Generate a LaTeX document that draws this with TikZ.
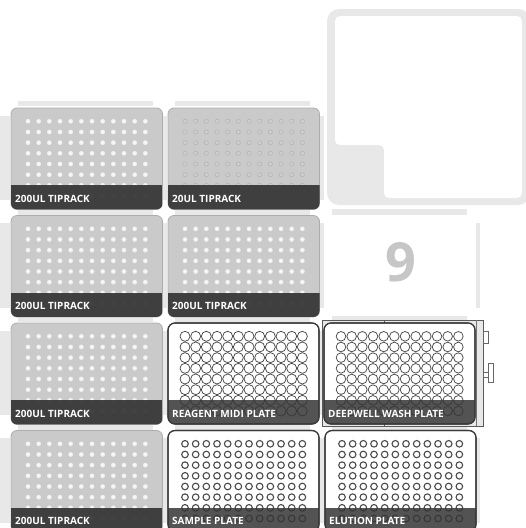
\documentclass[tikz,border=0pt]{standalone}
\usepackage{fontspec}
\setmainfont{Open Sans}
\definecolor{slotgray}{HTML}{E8E8E8}
\definecolor{tipgray}{HTML}{CACACA}
\definecolor{tipedge}{HTML}{ADADAD}
\definecolor{banddark}{HTML}{353535}
\definecolor{wellline}{HTML}{4A4A4A}
\definecolor{plateedge}{HTML}{3A3A3A}
\definecolor{ninegray}{HTML}{C6C6C6}
\tikzset{
  labeltext/.style={anchor=base west, text=white, inner sep=0pt,
    font=\fontsize{10}{11}\selectfont\bfseries},
  bar/.style={fill=slotgray},
}
% L T : top-left of labware footprint
\newcommand\DeckSlot[2]{%
  \fill[bar] ({#1+7},{#2-7}) rectangle ({#1+142},{#2-2});
  \fill[bar] ({#1+7},{#2+102.5}) rectangle ({#1+142},{#2+106.5});
  \fill[bar] ({#1-5},{#2+7.5}) rectangle ({#1-1},{#2+92});
  \fill[bar] ({#1+151},{#2+7.5}) rectangle ({#1+155},{#2+92});
}
% L T label name dotkind(0=200ul,1=20ul)
\newcommand\TipRack[5]{%
  \filldraw[fill=tipgray, draw=tipedge, line width=0.8pt, rounded corners=6]
    (#1,#2) rectangle ++(151.5,101.4);
  \foreach \i in {0,...,11} {\foreach \j in {0,...,7} {
    \ifnum#5=0
      \fill[white!70!tipgray] ({#1+17+\i*10.67},{#2+13.3+\j*10.67}) circle (2.4);
      \fill[white] ({#1+17+\i*10.67},{#2+13.3+\j*10.67}) circle (1.1);
    \else
      \filldraw[fill=tipgray!92!white, draw=black!30, line width=0.5pt]
        ({#1+17+\i*10.67},{#2+13.3+\j*10.67}) circle (2.1);
    \fi
  }}
  \begin{scope}
    \clip[rounded corners=6] (#1,#2) rectangle ++(151.5,101.4);
    \fill[banddark, opacity=0.93] (#1,{#2+77}) rectangle ++(151.5,30);
  \end{scope}
  \node[labeltext] (#4) at ({#1+4},{#2+94}) {#3};
}
% L T label name wellradius wellwidth
\newcommand\WellPlate[6]{%
  \filldraw[fill=white, draw=plateedge, line width=1.1pt, rounded corners=7]
    (#1,#2) rectangle ++(151,101);
  \foreach \i in {0,...,11} {\foreach \j in {0,...,7} {
    \draw[wellline, line width=#6] ({#1+17+\i*10.67},{#2+13.3+\j*10.67}) circle (#5);
  }}
  \begin{scope}
    \clip[rounded corners=7] (#1,#2) rectangle ++(151,101);
    \fill[banddark, opacity=0.85] (#1,{#2+77}) rectangle ++(151,30);
  \end{scope}
  \draw[plateedge, line width=1.1pt, rounded corners=7] (#1,#2) rectangle ++(151,101);
  \node[labeltext] (#4) at ({#1+4},{#2+94}) {#3};
}
\begin{document}
\begin{tikzpicture}[x=1pt,y=-1pt]
\useasboundingbox (0,0) rectangle (526,528);
\clip (0,0) rectangle (526,528);

% slot backgrounds
\foreach \r in {108,215.5,323,430.5} {
  \fill[bar] (0,{\r+7.5}) rectangle (10,{\r+92});
  \foreach \c in {11,168,325} {\DeckSlot{\c}{\r}}
}

% trash
\fill[slotgray, rounded corners=12] (327,9) rectangle (530,205);
\fill[white, rounded corners=5] (335,16) -- (522,16) -- (522,198) -- (384,198)
   -- (384,145) -- (335,145) -- cycle;

% slot 9
\node[font=\fontsize{54}{54}\selectfont\bfseries, text=ninegray, inner sep=0pt]
  (slotnine) at (401,262.5) {9};

% tipracks
\TipRack{11}{108}{200UL TIPRACK}{tr10}{0}
\TipRack{168}{108}{20UL TIPRACK}{tr11}{1}
\TipRack{11}{215.5}{200UL TIPRACK}{tr7}{0}
\TipRack{168}{215.5}{200UL TIPRACK}{tr8}{0}
\TipRack{11}{323}{200UL TIPRACK}{tr4}{0}
\TipRack{11}{430.5}{200UL TIPRACK}{tr1}{0}

% plates
\WellPlate{168}{323}{REAGENT MIDI PLATE}{reagent}{5}{0.75pt}

% magnetic module (slot 6)
\filldraw[fill=slotgray, draw=black!65, line width=0.8pt] (322,320) rectangle (483,426);
\draw[black!55, line width=0.6pt] (476,320) -- (476,426);
\draw[black!65, line width=0.8pt] (384,320) -- (384,324);
\draw[black!65, line width=0.8pt] (384,422) -- (384,426);
\filldraw[fill=white, draw=black!60, line width=0.6pt] (483,331) rectangle (488,343);
\filldraw[fill=white, draw=black!60, line width=0.6pt] (483,372) rectangle (489,377);
\filldraw[fill=white, draw=black!60, line width=0.6pt] (488,363) rectangle (493,382);
\WellPlate{324}{323}{DEEPWELL WASH PLATE}{deepwell}{4.8}{0.75pt}

\WellPlate{168}{430.5}{SAMPLE PLATE}{sample}{3.3}{1.1pt}
\WellPlate{325}{430.5}{ELUTION PLATE}{elution}{3.3}{1.1pt}
\end{tikzpicture}
\end{document}
